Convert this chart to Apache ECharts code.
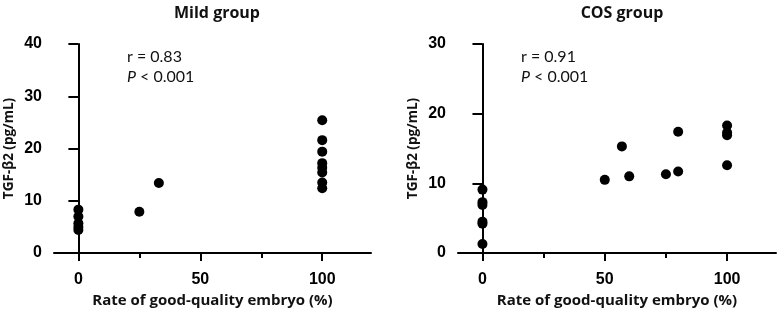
<!DOCTYPE html>
<html>
<head>
<meta charset="utf-8">
<script src="https://cdn.jsdelivr.net/npm/echarts@6/dist/echarts.min.js"></script>
<style>
  html, body { margin: 0; padding: 0; background: #fff; }
  #chart { width: 777px; height: 313px; }
</style>
</head>
<body>
<div id="chart"></div>
<script>
// 两组散点数据
const mildX = [0, 0, 0, 0, 0, 25, 33, 100, 100, 100, 100, 100, 100, 100, 100]
const mildY = [8.3, 7.0, 5.7, 5.0, 4.4, 7.9, 13.4, 25.4, 21.6, 19.4, 17.2, 16.3, 15.4, 13.5, 12.4]
const cosX = [0, 0, 0, 0, 0, 0, 50, 57, 60, 75, 80, 80, 100, 100, 100, 100]
const cosY = [9.1, 7.3, 6.9, 4.5, 4.2, 1.3, 10.5, 15.3, 11.0, 11.3, 11.7, 17.4, 18.3, 17.3, 16.9, 12.6]
const xMajorTicks = [0, 50, 100]
const xMinorTicks = [25, 75]
const panelTitles = ['Mild group', 'COS group']
const rTexts = ['r = 0.83', 'r = 0.91']
const pText = '{i|P} < 0.001'
const yMax = [40, 30]

const nameFont = '"Open Sans", "Noto Sans", sans-serif'
const noteFont = 'Lato, "Open Sans", sans-serif'
const tickFont = '"Liberation Sans", Arial, sans-serif'

const grids = [
  { left: 54, top: 44, width: 317, height: 211 },
  { left: 458, top: 44, width: 318, height: 211 }
]

function toPairs(xs, ys) {
  return xs.map((x, i) => [x, ys[i]])
}

const xAxis = []
const yAxis = []
grids.forEach((g, i) => {
  // 主刻度 + 标签
  xAxis.push({
    gridIndex: i,
    type: 'value',
    position: 'bottom',
    min: -10,
    max: 120,
    name: 'Rate of good-quality embryo (%)',
    nameLocation: 'middle',
    nameGap: 40,
    nameTextStyle: { fontFamily: nameFont, fontWeight: 'bold', fontSize: 15, color: '#111' },
    axisLine: { show: true, lineStyle: { color: '#000', width: 2 } },
    axisTick: { show: true, customValues: xMajorTicks, length: 8, lineStyle: { color: '#000', width: 2 } },
    axisLabel: { customValues: xMajorTicks, margin: 19, fontFamily: tickFont, fontWeight: 'bold', fontSize: 16, color: '#000' },
    splitLine: { show: false }
  })
  // 次刻度（25、75）
  xAxis.push({
    gridIndex: i,
    type: 'value',
    position: 'bottom',
    min: -10,
    max: 120,
    axisLine: { show: false },
    axisTick: { show: true, customValues: xMinorTicks, length: 5, lineStyle: { color: '#000', width: 2 } },
    axisLabel: { show: false },
    splitLine: { show: false }
  })
  yAxis.push({
    gridIndex: i,
    type: 'value',
    min: 0,
    max: yMax[i],
    interval: 10,
    name: 'TGF-β2 (pg/mL)',
    nameLocation: 'middle',
    nameGap: 38,
    nameTextStyle: { fontFamily: nameFont, fontWeight: 'bold', fontSize: 13.5, color: '#111' },
    axisLine: { show: true, lineStyle: { color: '#000', width: 2 } },
    axisTick: { show: true, length: 10, lineStyle: { color: '#000', width: 2 } },
    axisLabel: { margin: 12, fontFamily: tickFont, fontWeight: 'bold', fontSize: 16, color: '#000' },
    splitLine: { show: false }
  })
})

const option = {
  backgroundColor: '#fff',
  animation: false,
  title: [
    { text: panelTitles[0], left: 212, top: 0, textAlign: 'center',
      textStyle: { fontFamily: nameFont, fontWeight: 'bold', fontSize: 16, color: '#111' } },
    { text: panelTitles[1], left: 617, top: 0, textAlign: 'center',
      textStyle: { fontFamily: nameFont, fontWeight: 'bold', fontSize: 16, color: '#111' } }
  ],
  grid: grids,
  xAxis: xAxis,
  yAxis: yAxis,
  graphic: [127, 521].map((x, i) => ({
    type: 'group',
    left: x,
    top: 49,
    children: [
      { type: 'text', style: { text: rTexts[i], x: 0, y: 0, fontFamily: noteFont, fontSize: 16, fill: '#111' } },
      { type: 'text', style: {
        text: pText, x: 0, y: 20, fontFamily: noteFont, fontSize: 16, fill: '#111',
        rich: { i: { fontStyle: 'italic', fontFamily: noteFont, fontSize: 16 } }
      } }
    ]
  })),
  series: [
    {
      type: 'scatter',
      xAxisIndex: 0,
      yAxisIndex: 0,
      symbolSize: 10,
      itemStyle: { color: '#000', opacity: 1 },
      data: toPairs(mildX, mildY)
    },
    {
      type: 'scatter',
      xAxisIndex: 2,
      yAxisIndex: 1,
      symbolSize: 10,
      itemStyle: { color: '#000', opacity: 1 },
      data: toPairs(cosX, cosY)
    }
  ]
}

const myChart = echarts.init(document.getElementById('chart'))
myChart.setOption(option)
</script>
</body>
</html>
